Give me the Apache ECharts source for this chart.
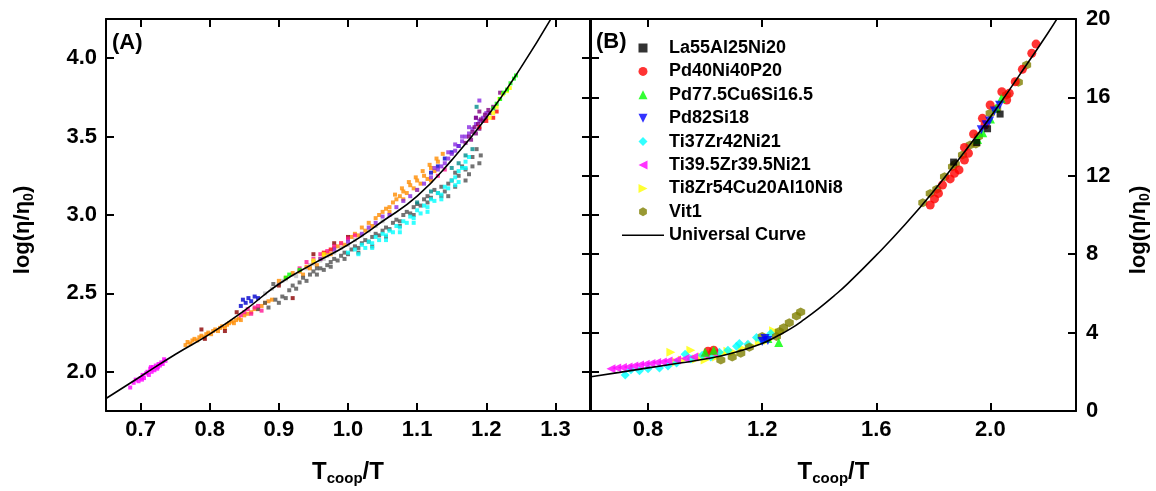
<!DOCTYPE html>
<html><head><meta charset="utf-8">
<script src="https://cdn.jsdelivr.net/npm/echarts@6/dist/echarts.min.js"></script>
<style>html,body{margin:0;padding:0;background:#fff}#c{width:1156px;height:491px}</style>
</head><body><div id="c"></div>
<script>
const FONT = '"Liberation Sans", Arial, sans-serif';

// ---------- tick labels ----------
const ticksAX = [0.7, 0.8, 0.9, 1.0, 1.1, 1.2, 1.3];
const ticksAY = [2.0, 2.5, 3.0, 3.5, 4.0];
const ticksBX = [0.8, 1.2, 1.6, 2.0];
const ticksBY = [0, 4, 8, 12, 16, 20];

// ---------- panel A universal curve ----------
const curveA = [[0.65,1.83],[0.70,1.97],[0.75,2.11],[0.80,2.24],[0.85,2.39],[0.90,2.56],[0.95,2.69],[1.00,2.81],[1.05,2.96],[1.10,3.12],[1.15,3.35],[1.20,3.62],[1.25,3.94],[1.30,4.30]];

// ---------- panel A scattered data ----------
const aMagenta = [[0.685,1.90],[0.690,1.93],[0.693,1.95],[0.697,1.94],[0.700,1.96],[0.702,1.95],[0.703,1.98],[0.705,1.96],[0.708,1.99],[0.710,2.00],[0.712,1.98],[0.714,2.02],[0.715,2.03],[0.716,2.00],[0.718,2.03],[0.720,2.01],[0.722,2.04],[0.724,2.02],[0.725,2.03],[0.726,2.05],[0.728,2.04],[0.730,2.06],[0.732,2.05],[0.734,2.08],[0.736,2.07]];
const aOrange = [[0.765,2.17],[0.768,2.19],[0.772,2.18],[0.775,2.20],[0.778,2.21],[0.782,2.20],[0.785,2.22],[0.788,2.23],[0.792,2.22],[0.795,2.24],[0.798,2.25],[0.802,2.24],[0.805,2.26],[0.808,2.27],[0.812,2.26],[0.815,2.28],[0.818,2.29],[0.822,2.28],[0.825,2.30],[0.828,2.31],[0.832,2.32],[0.835,2.31],[0.838,2.33],[0.842,2.34],[0.845,2.33],[0.850,2.36],[0.855,2.37],[0.860,2.38],[0.865,2.40],[0.870,2.40],[0.875,2.42],[0.880,2.44],[0.885,2.45],[0.890,2.46],
[0.93,2.64],[0.94,2.67],[0.95,2.70],[0.96,2.72],[0.97,2.76],[0.98,2.79],[0.99,2.82],[1.00,2.85],[1.01,2.88],[1.02,2.92],[1.03,2.95],[1.04,2.98],[1.05,3.02],[1.06,3.05],[1.065,3.08],[1.07,3.10],[1.075,3.12],[1.08,3.15],[1.085,3.14],[1.09,3.19],[1.095,3.17],[1.10,3.22],[1.105,3.20],[1.11,3.25],[1.115,3.23],[1.12,3.30],[1.125,3.28],[1.13,3.34],[1.137,3.39],[1.06,3.02],[1.08,3.10],[1.10,3.16],[1.12,3.22],
[0.935,2.62],[0.945,2.66],[0.955,2.68],[0.965,2.74],[0.975,2.75],[0.985,2.80],[0.995,2.81],[1.005,2.86],[1.015,2.87],[1.025,2.90],[1.035,2.93],[1.045,3.00],[1.055,3.04],[1.068,3.13],[1.078,3.17],[1.088,3.21],[1.098,3.24],[1.108,3.28],[1.118,3.32],[1.128,3.36],[0.90,2.58],[0.91,2.60],[0.92,2.63]];
const aDarkRed = [[0.788,2.27],[0.793,2.21],[0.822,2.26],[0.839,2.38],[0.920,2.47],[0.900,2.55],[0.950,2.75],[0.980,2.82],[1.000,2.86]];
const aPink = [[0.845,2.36],[0.850,2.38],[0.855,2.40],[0.860,2.37],[0.865,2.41],[0.870,2.42],[0.875,2.39],[0.93,2.66],[0.94,2.70],[0.95,2.72],[0.96,2.75],[0.97,2.77],[0.98,2.80],[0.99,2.82],[1.00,2.85],[1.01,2.87],[1.13,3.25],[1.14,3.29]];
const aBlue = [[0.845,2.42],[0.848,2.46],[0.852,2.44],[0.856,2.47],[0.860,2.45],[0.865,2.48],[0.870,2.47],[1.12,3.27],[1.13,3.31],[1.14,3.36],[1.15,3.40],[1.16,3.44]];
const aLightGray = [[0.88,2.50],[0.89,2.53],[0.90,2.56],[0.91,2.59],[0.92,2.62],[0.93,2.64],[0.94,2.66],[0.95,2.69],[0.96,2.71],[0.97,2.74],[0.98,2.76],[0.99,2.79],[1.00,2.81],[1.01,2.84],[1.02,2.87],[1.03,2.90],[1.04,2.93],[1.05,2.96],[0.905,2.58],[0.925,2.61],[0.945,2.68],[0.965,2.72]];
const aGray = [[0.87,2.40],[0.88,2.44],[0.885,2.41],[0.892,2.56],[0.895,2.46],[0.90,2.44],[0.905,2.48],[0.91,2.47],[0.915,2.52],[0.92,2.55],[0.925,2.53],[0.93,2.57],[0.935,2.60],[0.94,2.58],[0.945,2.62],[0.95,2.64],[0.955,2.62],[0.96,2.66],[0.965,2.65],[0.97,2.68],[0.975,2.70],[0.98,2.72],[0.985,2.71],[0.99,2.74],[0.995,2.76],[1.00,2.75],[1.005,2.78],[1.01,2.80],[1.015,2.79],[1.02,2.82],[1.025,2.84],[1.03,2.83],[1.035,2.86],[1.04,2.88],[1.045,2.87],[1.05,2.90],[1.055,2.92],[1.06,2.91],[1.065,2.95],[1.07,2.97],[1.075,2.96],[1.08,3.00],[1.085,3.02],[1.09,3.01],[1.095,3.05],[1.10,3.07],[1.105,3.06],[1.11,3.10],[1.115,3.12],[1.12,3.11],[1.125,3.16],[1.13,3.14],[1.135,3.18],[1.14,3.15],[1.145,3.20],[1.15,3.22],[1.16,3.25],[1.17,3.29],[1.175,3.26],[1.18,3.37],[1.186,3.42],[1.19,3.33],[1.192,3.38],[1.165,3.31],[1.155,3.18],[1.145,3.12],
[0.955,2.66],[0.975,2.67],[0.995,2.72],[1.015,2.76],[1.035,2.80],[1.055,2.86],[1.075,2.93],[1.095,3.00],[1.115,3.08],[1.135,3.12],[1.155,3.27],[1.17,3.22],[1.18,3.31]];
const aCyan = [[1.00,2.76],[1.01,2.78],[1.02,2.81],[1.025,2.79],[1.03,2.83],[1.035,2.82],[1.04,2.86],[1.045,2.84],[1.05,2.88],[1.055,2.87],[1.06,2.90],[1.065,2.89],[1.07,2.93],[1.075,2.92],[1.08,2.96],[1.085,2.95],[1.09,2.99],[1.095,2.98],[1.10,3.03],[1.105,3.01],[1.11,3.06],[1.115,3.05],[1.12,3.10],[1.125,3.09],[1.13,3.14],[1.135,3.13],[1.14,3.18],[1.145,3.17],[1.15,3.22],[1.155,3.24],[1.16,3.28],[1.165,3.30],[1.17,3.34],
[1.015,2.75],[1.035,2.79],[1.055,2.84],[1.075,2.89],[1.095,2.95],[1.115,3.02],[1.135,3.10],[1.155,3.19],[1.16,3.21],[1.17,3.30],[1.175,3.37]];
const aViolet = [[0.96,2.72],[0.98,2.78],[1.03,2.92],[1.05,2.99],[1.07,3.05],[1.08,3.09],[1.09,3.12],[1.10,3.16],[1.11,3.20],[1.12,3.24],[1.13,3.29],[1.135,3.31],[1.14,3.33],[1.145,3.36],[1.15,3.39],[1.155,3.41],[1.16,3.44],[1.165,3.47],[1.17,3.50],[1.175,3.52],[1.18,3.55],[1.185,3.58],[1.19,3.60],[1.195,3.62],[1.20,3.65],[1.19,3.73],
[1.125,3.30],[1.145,3.40],[1.155,3.45],[1.165,3.50],[1.175,3.56],[1.185,3.62],[1.06,3.00],[1.04,2.95],[1.02,2.88],[1.00,2.83]];
const aPurple = [[1.17,3.46],[1.175,3.50],[1.178,3.48],[1.18,3.53],[1.183,3.56],[1.185,3.52],[1.188,3.58],[1.19,3.55],[1.192,3.61],[1.195,3.60],[1.198,3.64],[1.20,3.62],[1.203,3.67],[1.205,3.65],[1.21,3.69],[1.185,3.62],[1.19,3.66],[1.22,3.78]];
const aRed = [[0.965,2.76],[0.975,2.78],[1.19,3.56],[1.20,3.60],[1.21,3.62],[1.215,3.66]];
const aGreen = [[0.91,2.60],[0.915,2.62],[0.93,2.65],[1.21,3.68],[1.215,3.71],[1.22,3.74],[1.225,3.78],[1.23,3.80],[1.235,3.84],[1.24,3.87],[1.243,3.89]];
const aYellow = [[0.95,2.71],[0.965,2.75],[1.205,3.62],[1.21,3.65],[1.215,3.69],[1.219,3.74],[1.224,3.77],[1.23,3.79],[1.234,3.81]];
const aTeal = [[1.10,3.08],[1.12,3.15],[1.15,3.30],[1.16,3.33],[1.17,3.38],[1.18,3.42],[1.186,3.69]];

// ---------- panel B ----------
const bNames = ['La55Al25Ni20','Pd40Ni40P20','Pd77.5Cu6Si16.5','Pd82Si18','Ti37Zr42Ni21','Ti39.5Zr39.5Ni21','Ti8Zr54Cu20Al10Ni8','Vit1'];
const curveName = 'Universal Curve';
const curveB = [[0.6,1.75],[0.7,1.97],[0.8,2.2],[0.9,2.42],[1.0,2.65],[1.1,2.97],[1.2,3.45],[1.25,3.8],[1.3,4.2],[1.35,4.7],[1.4,5.25],[1.45,5.85],[1.5,6.5],[1.6,7.95],[1.7,9.5],[1.8,11.2],[1.9,13.05],[2.0,15.0],[2.1,17.1],[2.2,19.25],[2.25,20.4]];
const bLa = [[1.871,12.7],[1.952,13.7],[1.99,14.4],[2.034,15.15]];
const bPd40 = [[1.01,3.05],[1.03,3.1],[1.789,10.51],[1.804,10.82],[1.818,11.1],[1.832,11.53],[1.859,11.84],[1.874,12.13],[1.89,12.3],[1.909,12.8],[1.923,13.15],[1.909,13.45],[1.941,14.13],[1.972,14.93],[1.981,14.59],[1.999,15.61],[2.04,16.29],[2.057,15.87],[2.066,16.21],[2.087,16.8],[2.112,17.43],[2.145,18.25],[2.16,18.72]];
const bPd77 = [[1.0,3.0],[1.03,3.1],[1.22,3.7],[1.258,3.5],[1.955,13.85],[1.973,14.2],[2.0,14.9],[2.02,15.45],[2.038,15.95]];
const bPd82 = [[1.2,3.55],[1.21,3.7],[1.22,3.6],[1.968,14.35],[1.985,14.6],[1.997,14.8],[2.014,15.3],[2.032,15.6]];
const bTi37 = [[0.72,1.84],[0.74,2.1],[0.77,2.05],[0.8,2.15],[0.84,2.2],[0.87,2.3],[0.9,2.45],[0.93,2.9],[0.95,2.65],[0.99,2.85],[1.02,2.75],[1.05,3.0],[1.08,3.1],[1.11,3.3],[1.12,3.45],[1.15,3.4],[1.18,3.75],[1.2,3.6],[1.23,3.95]];
const bTi39 = [[0.67,2.15],[0.69,2.2],[0.71,2.22],[0.73,2.25],[0.75,2.3],[0.77,2.35],[0.79,2.38],[0.81,2.42],[0.83,2.48],[0.85,2.5],[0.87,2.55],[0.9,2.6],[0.93,2.68],[0.96,2.75],[1.0,2.85],[1.03,2.95]];
const bTi8 = [[0.88,3.0],[0.9,2.5],[0.92,2.6],[0.95,3.1],[0.97,2.65],[0.99,2.75],[1.0,2.6],[1.02,2.9],[1.04,2.75],[1.06,2.95],[1.08,3.05],[1.1,3.0],[1.13,3.2],[1.16,3.35],[1.19,3.5],[1.22,3.6],[1.24,4.1],[1.26,4.0]];
const bVit1 = [[1.055,2.6],[1.095,2.75],[1.125,2.95],[1.155,3.25],[1.2,3.8],[1.25,3.8],[1.26,4.05],[1.275,4.25],[1.295,4.5],[1.32,4.85],[1.335,5.05],
[1.763,10.63],[1.789,11.1],[1.812,11.31],[1.839,11.95],[1.867,12.46],[1.877,12.6],[1.902,13.06],[1.929,13.57],[1.949,13.62],[1.958,14.0],[1.999,15.19],[2.022,15.44],[2.057,16.12],[2.098,16.77],[2.127,17.65]];

// ---------- styling ----------
const SYM = {
  square: 'path://M0,0L10,0L10,10L0,10Z',
  up: 'path://M5,0L10,10L0,10Z',
  down: 'path://M0,0L10,0L5,10Z',
  diamond: 'path://M5,0L10,5L5,10L0,5Z',
  left: 'path://M0,5L10,0L10,10Z',
  right: 'path://M0,0L10,5L0,10Z',
  hex: 'path://M5,0L9.33,2.5L9.33,7.5L5,10L0.67,7.5L0.67,2.5Z',
  line: 'path://M0,0L42,0L42,1.6L0,1.6Z'
};
const lab = {fontSize: 22, fontWeight: 'bold', color: '#000', fontFamily: FONT};
const axLine = {show: true, onZero: false, lineStyle: {color: '#000', width: 2}};
const tickIn = (vals) => ({show: true, inside: true, length: 8, lineStyle: {color: '#000', width: 2}, customValues: vals});
const xName = {
  name: '{t|T}{s|coop}{t|/T}', nameLocation: 'middle', nameGap: 48,
  nameTextStyle: {rich: {t: {fontSize: 24, fontWeight: 'bold', fontFamily: FONT, color: '#000'}, s: {fontSize: 15, fontWeight: 'bold', fontFamily: FONT, color: '#000', padding: [12, 0, 0, 0]}}}
};
const yNameRich = {rich: {t: {fontSize: 22, fontWeight: 'bold', fontFamily: FONT, color: '#000'}, s: {fontSize: 14, fontWeight: 'bold', fontFamily: FONT, color: '#000', padding: [12, 0, 0, 0]}}};

function aSeries(data, color) {
  return {type: 'scatter', xAxisIndex: 0, yAxisIndex: 0, data: data, symbol: 'rect', symbolSize: 4,
    itemStyle: {color: color}, silent: true, animation: false};
}
function bSeries(name, data, symbol, color, size) {
  return {name: name, type: 'scatter', xAxisIndex: 2, yAxisIndex: 2, data: data, symbol: symbol, symbolSize: size,
    itemStyle: {color: color}, animation: false};
}

const chart = echarts.init(document.getElementById('c'), null, {renderer: 'canvas'});
chart.setOption({
  backgroundColor: '#fff',
  animation: false,
  textStyle: {fontFamily: FONT},
  grid: [
    {left: 106, top: 19, width: 484, height: 392, containLabel: false, outerBoundsMode: 'none'},
    {left: 591, top: 19, width: 485, height: 392, containLabel: false, outerBoundsMode: 'none'}
  ],
  xAxis: [
    Object.assign({type: 'value', gridIndex: 0, position: 'bottom', min: 0.65, max: 1.35, axisLine: axLine,
      axisTick: tickIn(ticksAX), axisLabel: Object.assign({customValues: ticksAX, margin: 8, formatter: v => v.toFixed(1)}, lab), splitLine: {show: false}}, xName),
    {type: 'value', gridIndex: 0, position: 'top', min: 0.65, max: 1.35, axisLine: axLine,
      axisTick: tickIn(ticksAX), axisLabel: {show: false}, splitLine: {show: false}},
    Object.assign({type: 'value', gridIndex: 1, position: 'bottom', min: 0.6, max: 2.3, axisLine: axLine,
      axisTick: tickIn(ticksBX), axisLabel: Object.assign({customValues: ticksBX, margin: 8, formatter: v => v.toFixed(1)}, lab), splitLine: {show: false}}, xName),
    {type: 'value', gridIndex: 1, position: 'top', min: 0.6, max: 2.3, axisLine: axLine,
      axisTick: tickIn(ticksBX), axisLabel: {show: false}, splitLine: {show: false}}
  ],
  yAxis: [
    {type: 'value', gridIndex: 0, position: 'left', min: 1.75, max: 4.25, axisLine: axLine,
      axisTick: tickIn(ticksAY), axisLabel: Object.assign({customValues: ticksAY, margin: 9, formatter: v => v.toFixed(1)}, lab), splitLine: {show: false},
      name: '{t|log(η/η}{s|0}{t|)}', nameLocation: 'middle', nameRotate: 90, nameGap: 70,
      nameTextStyle: Object.assign({padding: [0, 30, 0, 0]}, yNameRich)},
    {type: 'value', gridIndex: 0, position: 'right', min: 1.75, max: 4.25, interval: 0.25, axisLine: axLine,
      axisTick: {show: true, inside: true, length: 8, lineStyle: {color: '#000', width: 2}}, axisLabel: {show: false}, splitLine: {show: false}},
    {type: 'value', gridIndex: 1, position: 'right', min: 0, max: 20, interval: 4, axisLine: axLine,
      axisTick: {show: true, inside: true, length: 8, lineStyle: {color: '#000', width: 2}}, axisLabel: Object.assign({margin: 10}, lab), splitLine: {show: false},
      name: '{t|log(η/η}{s|0}{t|)}', nameLocation: 'middle', nameRotate: 90, nameGap: 50,
      nameTextStyle: Object.assign({padding: [0, 30, 0, 0]}, yNameRich)},
    {type: 'value', gridIndex: 1, position: 'left', min: 0, max: 20, interval: 2, axisLine: axLine,
      axisTick: {show: true, inside: true, length: 8, lineStyle: {color: '#000', width: 2}}, axisLabel: {show: false}, splitLine: {show: false}}
  ],
  legend: {
    orient: 'vertical', left: 622, top: 39, padding: 0, itemWidth: 42, itemHeight: 9, itemGap: 5.4,
    data: bNames.concat([{name: curveName, icon: SYM.line, itemStyle: {color: '#000'}}]),
    textStyle: {fontSize: 18, fontWeight: 'bold', color: '#000', fontFamily: FONT, lineHeight: 18},
    selectedMode: false
  },
  graphic: [
    {type: 'text', left: 112, top: 32, style: {text: '(A)', font: 'bold 22px "Liberation Sans", Arial, sans-serif', fill: '#000'}},
    {type: 'text', left: 596, top: 31, style: {text: '(B)', font: 'bold 22px "Liberation Sans", Arial, sans-serif', fill: '#000'}}
  ],
  series: [
    aSeries(aLightGray, '#BEBEBE'),
    aSeries(aMagenta, '#FF00FF'),
    aSeries(aOrange, '#FF8C00'),
    aSeries(aGray, '#505050'),
    aSeries(aCyan, '#00FFFF'),
    aSeries(aDarkRed, '#8B0000'),
    aSeries(aPink, '#FF1493'),
    aSeries(aBlue, '#0000CD'),
    aSeries(aViolet, '#8A2BE2'),
    aSeries(aPurple, '#800080'),
    aSeries(aTeal, '#008B8B'),
    aSeries(aRed, '#FF0000'),
    aSeries(aYellow, '#FFFF00'),
    aSeries(aGreen, '#00FF00'),
    {type: 'line', xAxisIndex: 0, yAxisIndex: 0, data: curveA, smooth: 0.5, symbol: 'none',
      lineStyle: {color: '#000', width: 1.6}, silent: true, animation: false, clip: true},
    bSeries(bNames[6], bTi8, SYM.right, '#FFFF00', 9),
    bSeries(bNames[4], bTi37, SYM.diamond, '#00FFFF', 9),
    bSeries(bNames[5], bTi39, SYM.left, '#FF00FF', 9),
    bSeries(bNames[7], bVit1, SYM.hex, '#808000', 9),
    bSeries(bNames[1], bPd40, 'circle', '#FF0000', 9),
    bSeries(bNames[2], bPd77, SYM.up, '#00FF00', 9),
    bSeries(bNames[3], bPd82, SYM.down, '#0000FF', 9),
    bSeries(bNames[0], bLa, SYM.square, '#000000', 7),
    {name: curveName, type: 'line', xAxisIndex: 2, yAxisIndex: 2, data: curveB, smooth: 0.5, symbol: 'none',
      itemStyle: {color: '#000'}, lineStyle: {color: '#000', width: 1.6}, animation: false, clip: true}
  ]
});
</script></body></html>
